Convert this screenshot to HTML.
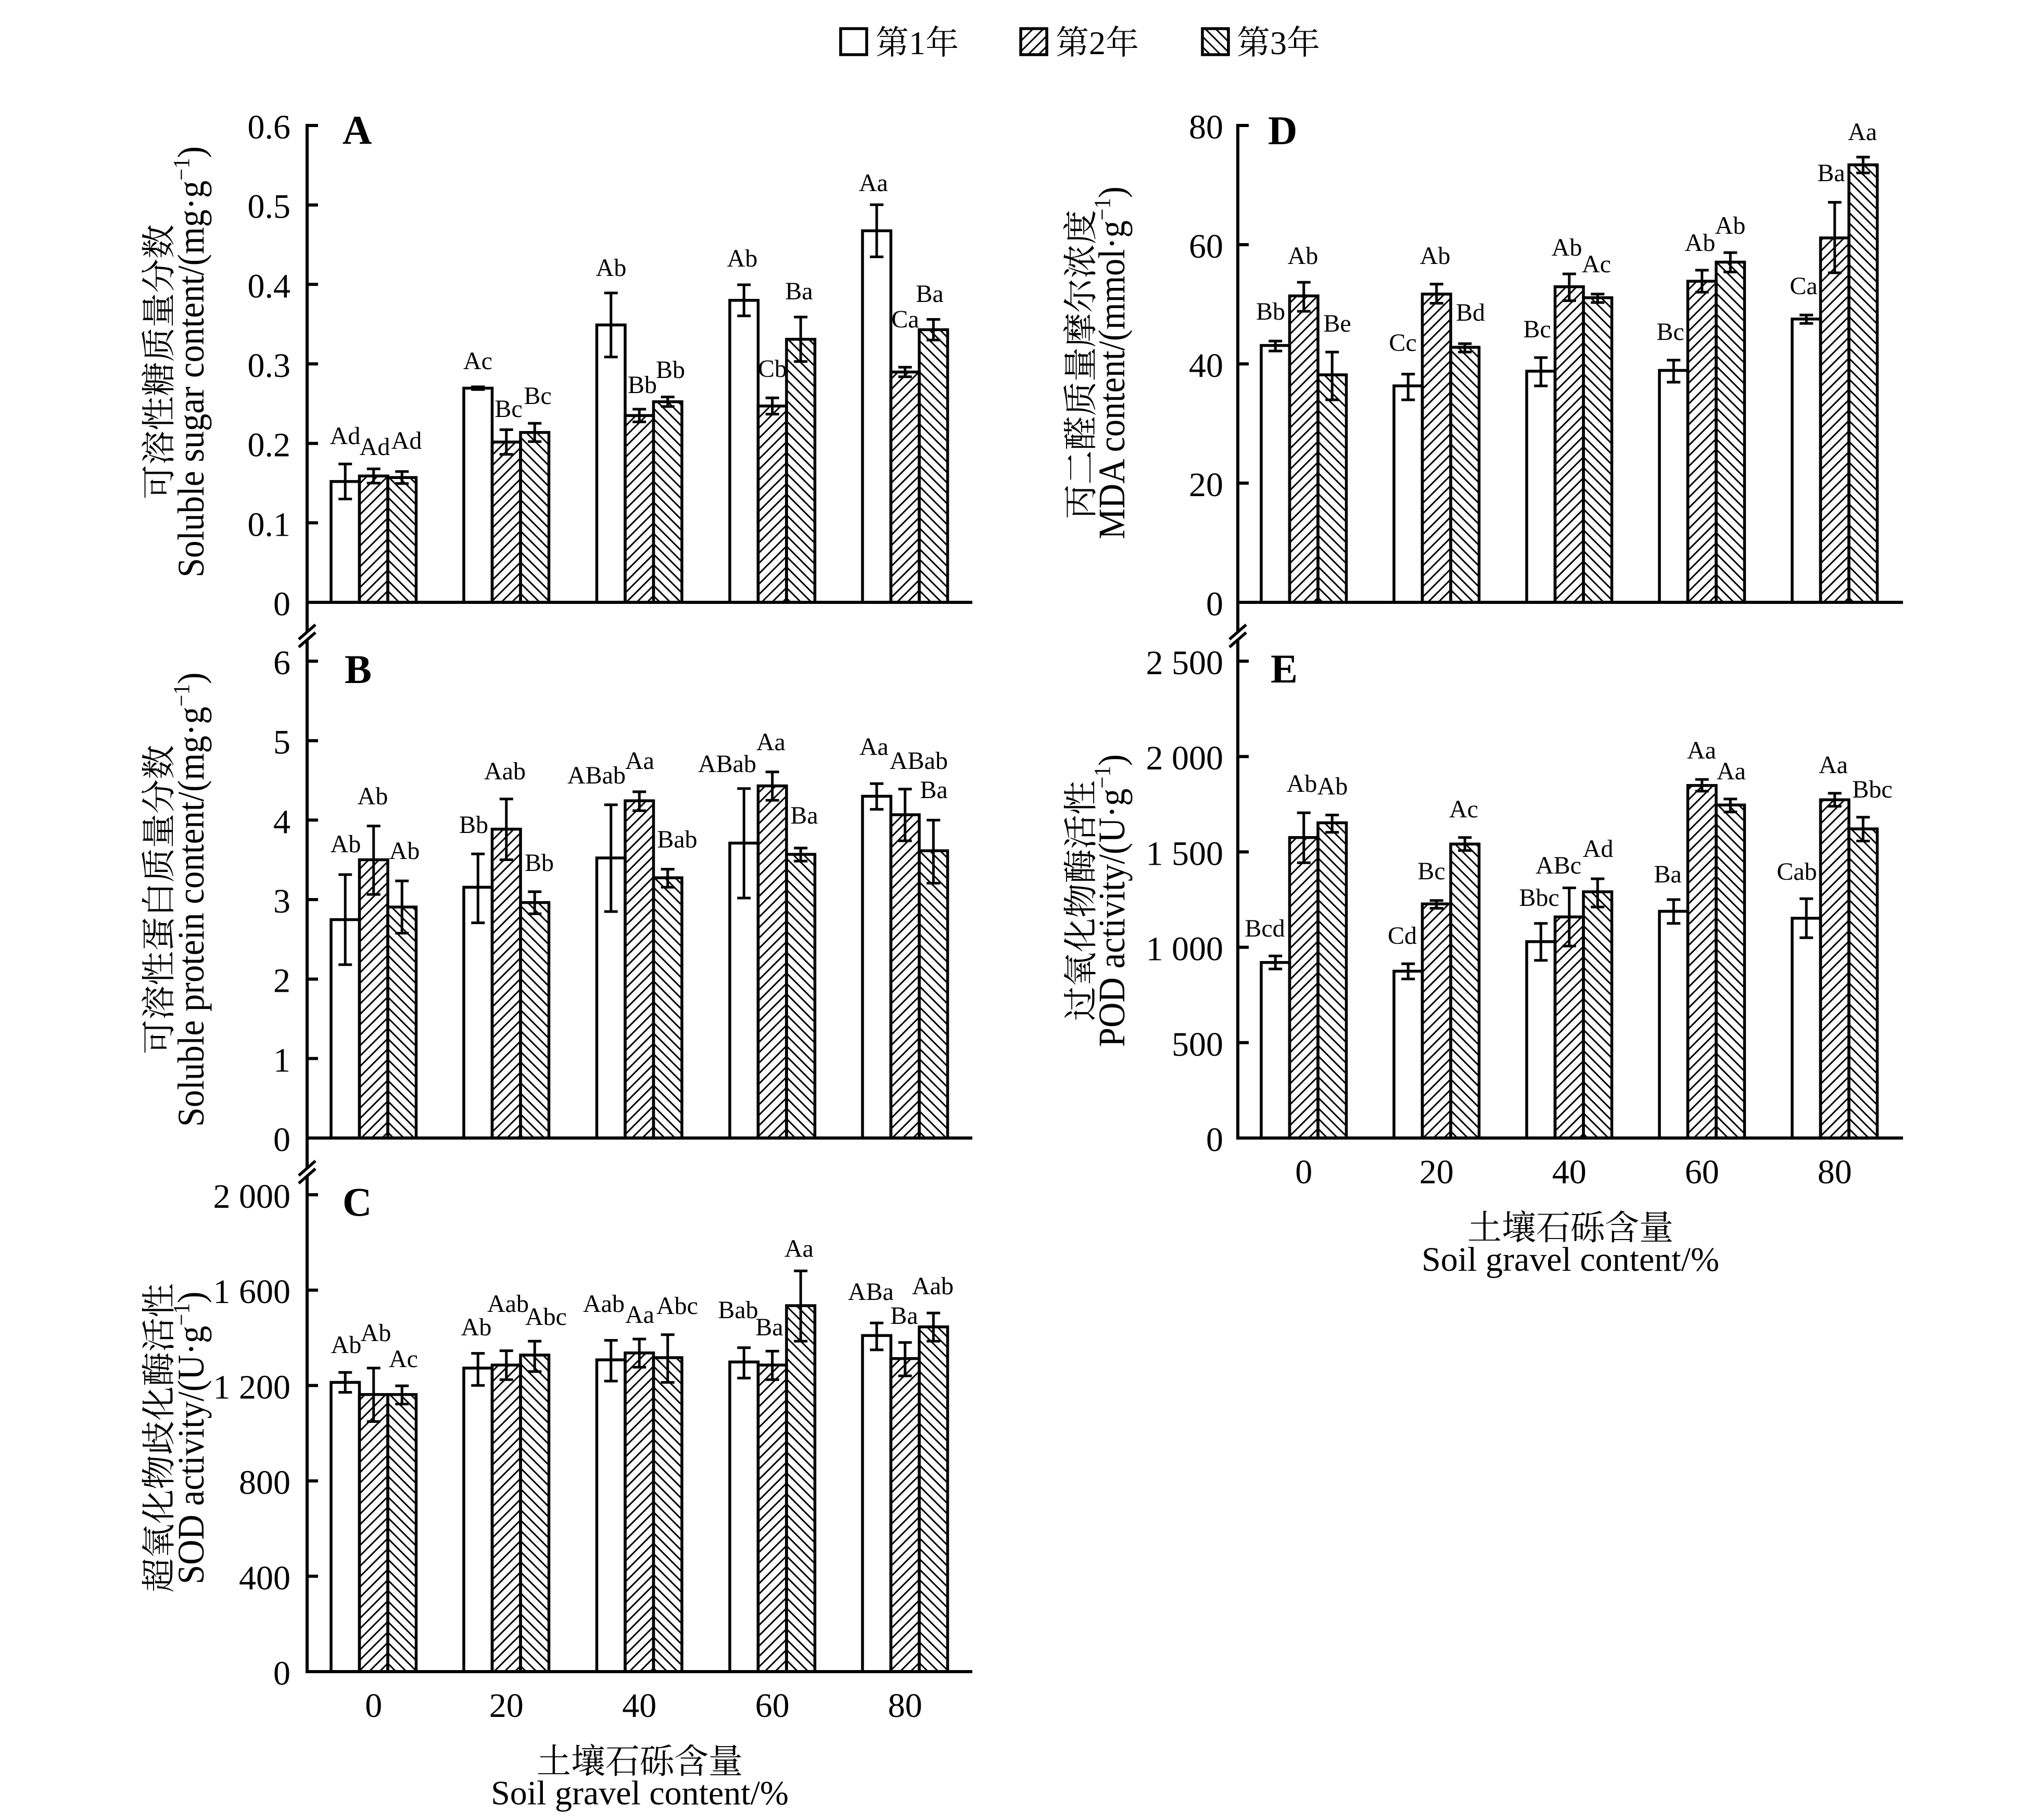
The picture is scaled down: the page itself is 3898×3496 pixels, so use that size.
<!DOCTYPE html>
<html><head><meta charset="utf-8"><style>
html,body{margin:0;padding:0;background:#fff;width:3898px;height:3496px;overflow:hidden}
svg{display:block}
text{font-family:"Liberation Serif","Noto Serif CJK SC",serif;fill:#000}
</style></head><body>
<svg width="3898" height="3496" viewBox="0 0 3898 3496" xmlns="http://www.w3.org/2000/svg">
<defs>
<pattern id="h2" width="20" height="20" patternUnits="userSpaceOnUse"><path d="M-5,5L5,-5M0,20L20,0M15,25L25,15" stroke="#000" stroke-width="3"/></pattern>
<pattern id="h3" width="20" height="20" patternUnits="userSpaceOnUse"><path d="M-5,15L5,25M0,0L20,20M15,-5L25,5" stroke="#000" stroke-width="3"/></pattern>
<pattern id="l0" href="#h3" patternTransform="translate(1490,0)"/>
<pattern id="l1" href="#h3" patternTransform="translate(2000,0)"/>
<pattern id="l2" href="#h3" patternTransform="translate(2511,0)"/>
<pattern id="l3" href="#h3" patternTransform="translate(3022,0)"/>
<pattern id="l4" href="#h3" patternTransform="translate(3532,0)"/>
<pattern id="r0" href="#h3" patternTransform="translate(5064,0)"/>
<pattern id="r1" href="#h3" patternTransform="translate(5574,0)"/>
<pattern id="r2" href="#h3" patternTransform="translate(6084,0)"/>
<pattern id="r3" href="#h3" patternTransform="translate(6594,0)"/>
<pattern id="r4" href="#h3" patternTransform="translate(7104,0)"/>
</defs>
<rect width="3898" height="3496" fill="#fff"/>

<!-- Legend -->
<g stroke="#000" stroke-width="5.5">
<rect x="1615" y="55" width="50" height="50" fill="#fff"/>
<rect x="1961" y="55" width="50" height="50" fill="url(#h2)"/>
<rect x="2310" y="55" width="50" height="50" fill="url(#h3)"/>
</g>
<g font-size="64">
<text x="1682" y="104">第1年</text>
<text x="2028" y="104">第2年</text>
<text x="2376" y="104">第3年</text>
</g>

<!-- Bars -->
<g stroke="#000" stroke-width="5.5">
<!-- A -->
<rect x="636" y="924.9" width="54.5" height="232.1" fill="#fff"/>
<rect x="690.5" y="914.3" width="54.5" height="242.7" fill="url(#h2)"/>
<rect x="745" y="917.3" width="54.5" height="239.7" fill="url(#l0)"/>
<rect x="891" y="745.6" width="54.5" height="411.4" fill="#fff"/>
<rect x="945.5" y="849.1" width="54.5" height="307.9" fill="url(#h2)"/>
<rect x="1000" y="830.7" width="54.5" height="326.3" fill="url(#l1)"/>
<rect x="1146.5" y="624.2" width="54.5" height="532.8" fill="#fff"/>
<rect x="1201" y="798.2" width="54.5" height="358.8" fill="url(#h2)"/>
<rect x="1255.5" y="771.7" width="54.5" height="385.3" fill="url(#l2)"/>
<rect x="1402" y="576.9" width="54.5" height="580.1" fill="#fff"/>
<rect x="1456.5" y="779.9" width="54.5" height="377.1" fill="url(#h2)"/>
<rect x="1511" y="651.7" width="54.5" height="505.3" fill="url(#l3)"/>
<rect x="1657" y="443.3" width="54.5" height="713.7" fill="#fff"/>
<rect x="1711.5" y="714.6" width="54.5" height="442.4" fill="url(#h2)"/>
<rect x="1766" y="633.3" width="54.5" height="523.7" fill="url(#l4)"/>
<!-- B -->
<rect x="636" y="1766.5" width="54.5" height="419.5" fill="#fff"/>
<rect x="690.5" y="1651.5" width="54.5" height="534.5" fill="url(#h2)"/>
<rect x="745" y="1742.3" width="54.5" height="443.7" fill="url(#l0)"/>
<rect x="891" y="1704.3" width="54.5" height="481.7" fill="#fff"/>
<rect x="945.5" y="1592.7" width="54.5" height="593.3" fill="url(#h2)"/>
<rect x="1000" y="1733.7" width="54.5" height="452.3" fill="url(#l1)"/>
<rect x="1146.5" y="1648" width="54.5" height="538" fill="#fff"/>
<rect x="1201" y="1538.2" width="54.5" height="647.8" fill="url(#h2)"/>
<rect x="1255.5" y="1686.1" width="54.5" height="499.9" fill="url(#l2)"/>
<rect x="1402" y="1619.5" width="54.5" height="566.5" fill="#fff"/>
<rect x="1456.5" y="1509.6" width="54.5" height="676.4" fill="url(#h2)"/>
<rect x="1511" y="1641.1" width="54.5" height="544.9" fill="url(#l3)"/>
<rect x="1657" y="1529.5" width="54.5" height="656.5" fill="#fff"/>
<rect x="1711.5" y="1565" width="54.5" height="621" fill="url(#h2)"/>
<rect x="1766" y="1634.2" width="54.5" height="551.8" fill="url(#l4)"/>
<!-- C -->
<rect x="636" y="2655.4" width="54.5" height="555.6" fill="#fff"/>
<rect x="690.5" y="2678.7" width="54.5" height="532.3" fill="url(#h2)"/>
<rect x="745" y="2678.7" width="54.5" height="532.3" fill="url(#l0)"/>
<rect x="891" y="2627.9" width="54.5" height="583.1" fill="#fff"/>
<rect x="945.5" y="2622.1" width="54.5" height="588.9" fill="url(#h2)"/>
<rect x="1000" y="2602.9" width="54.5" height="608.1" fill="url(#l1)"/>
<rect x="1146.5" y="2612.1" width="54.5" height="598.9" fill="#fff"/>
<rect x="1201" y="2598.8" width="54.5" height="612.2" fill="url(#h2)"/>
<rect x="1255.5" y="2607.9" width="54.5" height="603.1" fill="url(#l2)"/>
<rect x="1402" y="2616.2" width="54.5" height="594.8" fill="#fff"/>
<rect x="1456.5" y="2622.1" width="54.5" height="588.9" fill="url(#h2)"/>
<rect x="1511" y="2508" width="54.5" height="703" fill="url(#l3)"/>
<rect x="1657" y="2565.4" width="54.5" height="645.6" fill="#fff"/>
<rect x="1711.5" y="2609.6" width="54.5" height="601.4" fill="url(#h2)"/>
<rect x="1766" y="2548.8" width="54.5" height="662.2" fill="url(#l4)"/>
<!-- D -->
<rect x="2423" y="663.6" width="54.5" height="493.4" fill="#fff"/>
<rect x="2477.5" y="568.4" width="54.5" height="588.6" fill="url(#h2)"/>
<rect x="2532" y="720" width="54.5" height="437" fill="url(#r0)"/>
<rect x="2678" y="741.2" width="54.5" height="415.8" fill="#fff"/>
<rect x="2732.5" y="564.9" width="54.5" height="592.1" fill="url(#h2)"/>
<rect x="2787" y="667.1" width="54.5" height="489.9" fill="url(#r1)"/>
<rect x="2933" y="713" width="54.5" height="444" fill="#fff"/>
<rect x="2987.5" y="550.8" width="54.5" height="606.2" fill="url(#h2)"/>
<rect x="3042" y="571.9" width="54.5" height="585.1" fill="url(#r2)"/>
<rect x="3188" y="711.5" width="54.5" height="445.5" fill="#fff"/>
<rect x="3242.5" y="540.2" width="54.5" height="616.8" fill="url(#h2)"/>
<rect x="3297" y="503.5" width="54.5" height="653.5" fill="url(#r3)"/>
<rect x="3443" y="612.8" width="54.5" height="544.2" fill="#fff"/>
<rect x="3497.5" y="457" width="54.5" height="700" fill="url(#h2)"/>
<rect x="3552" y="316.6" width="54.5" height="840.4" fill="url(#r4)"/>
<!-- E -->
<rect x="2423" y="1848.8" width="54.5" height="337.2" fill="#fff"/>
<rect x="2477.5" y="1608.8" width="54.5" height="577.2" fill="url(#h2)"/>
<rect x="2532" y="1580.5" width="54.5" height="605.5" fill="url(#r0)"/>
<rect x="2678" y="1865.5" width="54.5" height="320.5" fill="#fff"/>
<rect x="2732.5" y="1736.3" width="54.5" height="449.7" fill="url(#h2)"/>
<rect x="2787" y="1621.3" width="54.5" height="564.7" fill="url(#r1)"/>
<rect x="2933" y="1808.8" width="54.5" height="377.2" fill="#fff"/>
<rect x="2987.5" y="1761.3" width="54.5" height="424.7" fill="url(#h2)"/>
<rect x="3042" y="1713" width="54.5" height="473" fill="url(#r2)"/>
<rect x="3188" y="1750.5" width="54.5" height="435.5" fill="#fff"/>
<rect x="3242.5" y="1508.8" width="54.5" height="677.2" fill="url(#h2)"/>
<rect x="3297" y="1546.3" width="54.5" height="639.7" fill="url(#r3)"/>
<rect x="3443" y="1763.8" width="54.5" height="422.2" fill="#fff"/>
<rect x="3497.5" y="1536.3" width="54.5" height="649.7" fill="url(#h2)"/>
<rect x="3552" y="1592.2" width="54.5" height="593.8" fill="url(#r4)"/>
</g>

<!-- Error bars -->
<g stroke="#000" stroke-width="5" fill="none">
<path d="M663.25,891.3V958.5M650.25,891.3h26M650.25,958.5h26M717.75,900.6V928M704.75,900.6h26M704.75,928h26M772.25,905.8V928.8M759.25,905.8h26M759.25,928.8h26M918.25,743V748.2M905.25,743h26M905.25,748.2h26M972.75,825.4V872.8M959.75,825.4h26M959.75,872.8h26M1027.25,813.1V848.3M1014.25,813.1h26M1014.25,848.3h26M1173.75,562.7V685.7M1160.75,562.7h26M1160.75,685.7h26M1228.25,786V810.4M1215.25,786h26M1215.25,810.4h26M1282.75,762.5V780.9M1269.75,762.5h26M1269.75,780.9h26M1429.25,547V606.8M1416.25,547h26M1416.25,606.8h26M1483.75,764.3V795.5M1470.75,764.3h26M1470.75,795.5h26M1538.25,609V694.4M1525.25,609h26M1525.25,694.4h26M1684.25,393.2V493.4M1671.25,393.2h26M1671.25,493.4h26M1738.75,705.4V723.8M1725.75,705.4h26M1725.75,723.8h26M1793.25,613.5V653.1M1780.25,613.5h26M1780.25,653.1h26"/>
<path d="M663.25,1680V1853M650.25,1680h26M650.25,1853h26M717.75,1586.6V1718.1M704.75,1586.6h26M704.75,1718.1h26M772.25,1692.1V1792.5M759.25,1692.1h26M759.25,1792.5h26M918.25,1640.2V1772.6M905.25,1640.2h26M905.25,1772.6h26M972.75,1534.7V1651.5M959.75,1534.7h26M959.75,1651.5h26M1027.25,1712.9V1755.3M1014.25,1712.9h26M1014.25,1755.3h26M1173.75,1545.9V1751M1160.75,1545.9h26M1160.75,1751h26M1228.25,1520.9V1557.2M1215.25,1520.9h26M1215.25,1557.2h26M1282.75,1669.6V1704.3M1269.75,1669.6h26M1269.75,1704.3h26M1429.25,1514.8V1725M1416.25,1514.8h26M1416.25,1725h26M1483.75,1482.8V1537.3M1470.75,1482.8h26M1470.75,1537.3h26M1538.25,1629V1654.1M1525.25,1629h26M1525.25,1654.1h26M1684.25,1505.3V1554.6M1671.25,1505.3h26M1671.25,1554.6h26M1738.75,1515.7V1615.1M1725.75,1515.7h26M1725.75,1615.1h26M1793.25,1575.4V1696.5M1780.25,1575.4h26M1780.25,1696.5h26"/>
<path d="M663.25,2636.2V2674.5M650.25,2636.2h26M650.25,2674.5h26M717.75,2627.9V2730.6M704.75,2627.9h26M704.75,2730.6h26M772.25,2662V2697M759.25,2662h26M759.25,2697h26M918.25,2599.6V2661.2M905.25,2599.6h26M905.25,2661.2h26M972.75,2594.6V2650.1M959.75,2594.6h26M959.75,2650.1h26M1027.25,2576.3V2634.6M1014.25,2576.3h26M1014.25,2634.6h26M1173.75,2574.6V2652.9M1160.75,2574.6h26M1160.75,2652.9h26M1228.25,2572.1V2626.2M1215.25,2572.1h26M1215.25,2626.2h26M1282.75,2563.8V2655.4M1269.75,2563.8h26M1269.75,2655.4h26M1429.25,2588.7V2647.1M1416.25,2588.7h26M1416.25,2647.1h26M1483.75,2595.4V2650.1M1470.75,2595.4h26M1470.75,2650.1h26M1538.25,2441.3V2576.3M1525.25,2441.3h26M1525.25,2576.3h26M1684.25,2541.3V2592.9M1671.25,2541.3h26M1671.25,2592.9h26M1738.75,2578.8V2642.9M1725.75,2578.8h26M1725.75,2642.9h26M1793.25,2522.1V2576.3M1780.25,2522.1h26M1780.25,2576.3h26"/>
<path d="M2450.25,655.1V674.2M2437.25,655.1h26M2437.25,674.2h26M2504.75,542.3V598M2491.75,542.3h26M2491.75,598h26M2559.25,676.3V768M2546.25,676.3h26M2546.25,768h26M2705.25,718.6V768M2692.25,718.6h26M2692.25,768h26M2759.75,545.8V582.5M2746.75,545.8h26M2746.75,582.5h26M2814.25,660.1V676.3M2801.25,660.1h26M2801.25,676.3h26M2960.25,686.9V741.2M2947.25,686.9h26M2947.25,741.2h26M3014.75,526.1V577.6M3001.75,526.1h26M3001.75,577.6h26M3069.25,564.9V581.1M3056.25,564.9h26M3056.25,581.1h26M3215.25,691.8V734.1M3202.25,691.8h26M3202.25,734.1h26M3269.75,519V561.3M3256.75,519h26M3256.75,561.3h26M3324.25,485.2V522.5M3311.25,485.2h26M3311.25,522.5h26M3470.25,605.1V621.3M3457.25,605.1h26M3457.25,621.3h26M3524.75,388.6V524M3511.75,388.6h26M3511.75,524h26M3579.25,301.8V332.1M3566.25,301.8h26M3566.25,332.1h26"/>
<path d="M2450.25,1836.3V1861.3M2437.25,1836.3h26M2437.25,1861.3h26M2504.75,1561.3V1657.2M2491.75,1561.3h26M2491.75,1657.2h26M2559.25,1565.5V1598.8M2546.25,1565.5h26M2546.25,1598.8h26M2705.25,1851.3V1880.5M2692.25,1851.3h26M2692.25,1880.5h26M2759.75,1729.7V1744.7M2746.75,1729.7h26M2746.75,1744.7h26M2814.25,1608.8V1633.8M2801.25,1608.8h26M2801.25,1633.8h26M2960.25,1773.8V1844.7M2947.25,1773.8h26M2947.25,1844.7h26M3014.75,1705.5V1817.2M3001.75,1705.5h26M3001.75,1817.2h26M3069.25,1688V1742.2M3056.25,1688h26M3056.25,1742.2h26M3215.25,1728V1773.8M3202.25,1728h26M3202.25,1773.8h26M3269.75,1497.2V1519.7M3256.75,1497.2h26M3256.75,1519.7h26M3324.25,1534.7V1559.7M3311.25,1534.7h26M3311.25,1559.7h26M3470.25,1726.3V1801.3M3457.25,1726.3h26M3457.25,1801.3h26M3524.75,1523.8V1548.8M3511.75,1523.8h26M3511.75,1548.8h26M3579.25,1569.7V1615.5M3566.25,1569.7h26M3566.25,1615.5h26"/>
</g>

<!-- Axes -->
<g stroke="#000" stroke-width="6" fill="none">
<path d="M590,238V1214M590,1229V2244M590,2259V3214M587,1157H1868M587,2186H1868M587,3211H1868"/>
<path d="M2378,238V1214M2378,1229V2189M2375,1157H3656M2375,2186H3656"/>
<path d="M590,1004.3h21M590,851.7h21M590,699h21M590,546.3h21M590,393.7h21M590,241h21M590,2033.3h21M590,1880.7h21M590,1728h21M590,1575.3h21M590,1422.7h21M590,1270h21M590,3027.8h21M590,2844.6h21M590,2661.4h21M590,2478.2h21M590,2295h21"/>
<path d="M2378,928h21M2378,699h21M2378,470h21M2378,241h21M2378,2002.8h21M2378,1819.6h21M2378,1636.4h21M2378,1453.2h21M2378,1270h21"/>
<path stroke-width="5.5" d="M574,1228L606,1200M574,1243L606,1215M574,2258L606,2230M574,2273L606,2245M2362,1228L2394,1200M2362,1243L2394,1215"/>
</g>

<!-- Tick labels -->
<g font-size="66" text-anchor="end">
<text x="558" y="266">0.6</text><text x="558" y="418.7">0.5</text><text x="558" y="571.3">0.4</text><text x="558" y="724">0.3</text><text x="558" y="876.7">0.2</text><text x="558" y="1029.3">0.1</text><text x="558" y="1182">0</text>
<text x="558" y="1295">6</text><text x="558" y="1447.7">5</text><text x="558" y="1600.3">4</text><text x="558" y="1753">3</text><text x="558" y="1905.7">2</text><text x="558" y="2058.3">1</text><text x="558" y="2211">0</text>
<text x="558" y="2320">2 000</text><text x="558" y="2503.2">1 600</text><text x="558" y="2686.4">1 200</text><text x="558" y="2869.6">800</text><text x="558" y="3052.8">400</text><text x="558" y="3236">0</text>
<text x="2350" y="266">80</text><text x="2350" y="495">60</text><text x="2350" y="724">40</text><text x="2350" y="953">20</text><text x="2350" y="1182">0</text>
<text x="2350" y="1295">2 500</text><text x="2350" y="1478.2">2 000</text><text x="2350" y="1661.4">1 500</text><text x="2350" y="1844.6">1 000</text><text x="2350" y="2027.8">500</text><text x="2350" y="2211">0</text>
</g>
<g font-size="66" text-anchor="middle">
<text x="717.75" y="3298">0</text><text x="972.75" y="3298">20</text><text x="1228.25" y="3298">40</text><text x="1483.75" y="3298">60</text><text x="1738.75" y="3298">80</text>
<text x="2504.75" y="2273">0</text><text x="2759.75" y="2273">20</text><text x="3014.75" y="2273">40</text><text x="3269.75" y="2273">60</text><text x="3524.75" y="2273">80</text>
<text x="1229" y="3406">土壤石砾含量</text>
<text x="1229" y="3466">Soil gravel content/%</text>
<text x="3017" y="2381">土壤石砾含量</text>
<text x="3017" y="2441">Soil gravel content/%</text>
</g>

<!-- Panel letters -->
<g font-size="78" font-weight="bold">
<text x="658" y="276">A</text>
<text x="662" y="1312">B</text>
<text x="658" y="2335">C</text>
<text x="2436" y="277">D</text>
<text x="2441" y="1311">E</text>
</g>

<!-- Y titles -->
<g font-size="66" text-anchor="middle">
<text transform="translate(328,695) rotate(-90)">可溶性糖质量分数</text>
<text transform="translate(328,1728) rotate(-90)">可溶性蛋白质量分数</text>
<text transform="translate(328,2762) rotate(-90)">超氧化物歧化酶活性</text>
<text transform="translate(2099,700) rotate(-90)">丙二醛质量摩尔浓度</text>
<text transform="translate(2099,1730) rotate(-90)">过氧化物酶活性</text>
</g>
<g font-size="72" text-anchor="middle">
<text transform="translate(391,695) rotate(-90) scale(0.93,1)">Soluble sugar content/(mg·g<tspan font-size="44" dy="-28">−1</tspan><tspan dy="28">)</tspan></text>
<text transform="translate(391,1728) rotate(-90) scale(0.93,1)">Soluble protein content/(mg·g<tspan font-size="44" dy="-28">−1</tspan><tspan dy="28">)</tspan></text>
<text transform="translate(391,2762) rotate(-90) scale(0.93,1)">SOD activity/(U·g<tspan font-size="44" dy="-28">−1</tspan><tspan dy="28">)</tspan></text>
<text transform="translate(2160,697) rotate(-90) scale(0.92,1)">MDA content/(mmol·g<tspan font-size="44" dy="-28">−1</tspan><tspan dy="28">)</tspan></text>
<text transform="translate(2160,1730) rotate(-90) scale(0.93,1)">POD activity/(U·g<tspan font-size="44" dy="-28">−1</tspan><tspan dy="28">)</tspan></text>
</g>

<!-- Significance labels -->
<g font-size="48" text-anchor="middle">
<text x="663" y="853">Ad</text><text x="720" y="874">Ad</text><text x="781" y="862">Ad</text>
<text x="918" y="709">Ac</text><text x="977" y="801">Bc</text><text x="1033" y="776">Bc</text>
<text x="1174" y="530">Ab</text><text x="1234" y="755">Bb</text><text x="1288" y="726">Bb</text>
<text x="1426" y="512">Ab</text><text x="1484" y="724">Cb</text><text x="1535" y="575">Ba</text>
<text x="1678" y="367">Aa</text><text x="1739" y="629">Ca</text><text x="1786" y="580">Ba</text>

<text x="664" y="1637">Ab</text><text x="716" y="1545">Ab</text><text x="777" y="1650">Ab</text>
<text x="910" y="1600">Bb</text><text x="970" y="1497">Aab</text><text x="1036" y="1673">Bb</text>
<text x="1146" y="1505">ABab</text><text x="1229" y="1477">Aa</text><text x="1301" y="1628">Bab</text>
<text x="1397" y="1483">ABab</text><text x="1481" y="1441">Aa</text><text x="1545" y="1582">Ba</text>
<text x="1679" y="1450">Aa</text><text x="1765" y="1477">ABab</text><text x="1794" y="1533">Ba</text>

<text x="665" y="2599">Ab</text><text x="722" y="2576">Ab</text><text x="775" y="2626">Ac</text>
<text x="915" y="2565">Ab</text><text x="976" y="2520">Aab</text><text x="1049" y="2545">Abc</text>
<text x="1160" y="2520">Aab</text><text x="1229" y="2541">Aa</text><text x="1301" y="2524">Abc</text>
<text x="1418" y="2532">Bab</text><text x="1478" y="2565">Ba</text><text x="1535" y="2414">Aa</text>
<text x="1673" y="2497">ABa</text><text x="1737" y="2543">Ba</text><text x="1792" y="2486">Aab</text>

<text x="2441" y="614">Bb</text><text x="2503" y="507">Ab</text><text x="2569" y="637">Be</text>
<text x="2695" y="674">Cc</text><text x="2757" y="507">Ab</text><text x="2825" y="616">Bd</text>
<text x="2953" y="648">Bc</text><text x="3010" y="491">Ab</text><text x="3067" y="523">Ac</text>
<text x="3209" y="653">Bc</text><text x="3266" y="482">Ab</text><text x="3324" y="449">Ab</text>
<text x="3465" y="565">Ca</text><text x="3518" y="348">Ba</text><text x="3578" y="269">Aa</text>

<text x="2430" y="1799">Bcd</text><text x="2501" y="1521">Ab</text><text x="2560" y="1526">Ab</text>
<text x="2694" y="1813">Cd</text><text x="2750" y="1689">Bc</text><text x="2812" y="1570">Ac</text>
<text x="2957" y="1740">Bbc</text><text x="2994" y="1678">ABc</text><text x="3070" y="1646">Ad</text>
<text x="3204" y="1695">Ba</text><text x="3269" y="1457">Aa</text><text x="3326" y="1497">Aa</text>
<text x="3452" y="1690">Cab</text><text x="3522" y="1485">Aa</text><text x="3597" y="1532">Bbc</text>
</g>
</svg>
</body></html>
